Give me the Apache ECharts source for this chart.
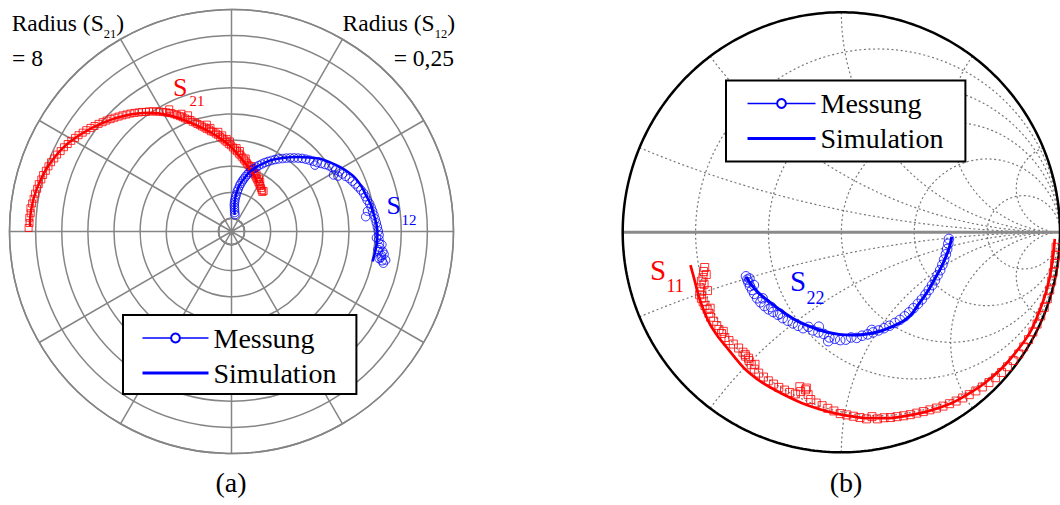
<!DOCTYPE html>
<html><head><meta charset="utf-8">
<script src="https://cdn.jsdelivr.net/npm/echarts@6/dist/echarts.min.js"></script>
<style>html,body{margin:0;padding:0;background:#fff}#c{width:1060px;height:505px}</style>
</head><body><div id="c"></div>
<script>
// ---------- data ----------
// polar (a): [radius, angle in degrees]; S21 radius axis max = 8, S12 radius axis max = 0.25
const s21RadiusMax = 8;
const s12RadiusMax = 0.25;
const s21Sim = [[7.22,178.6],[7.22,174],[7.14,168],[6.97,161],[6.70,153.5],[6.33,146.5],[5.93,139.5],[5.52,132.5],[5.05,125],[4.58,118.5],[4.02,111.5],[3.45,103],[3.10,97],[2.78,91],[2.45,85],[2.18,79],[1.95,72],[1.76,66],[1.60,62]];
const s21Meas = [[7.27,179.0],[7.24,177.6],[7.26,176.1],[7.22,174.8],[7.25,173.4],[7.21,172.0],[7.18,170.6],[7.16,169.1],[7.12,167.6],[7.10,166.2],[7.05,164.7],[7.03,163.3],[6.98,161.9],[6.94,160.4],[6.90,159.0],[6.84,157.6],[6.80,156.2],[6.73,154.8],[6.68,153.3],[6.61,151.9],[6.55,150.5],[6.48,149.1],[6.42,147.8],[6.34,146.4],[6.28,145.1],[6.20,143.7],[6.12,142.4],[6.05,141.0],[5.97,139.7],[5.90,138.4],[5.82,137.1],[5.75,135.8],[5.67,134.5],[5.60,133.2],[5.52,131.9],[5.45,130.6],[5.37,129.3],[5.28,127.9],[5.22,126.8],[5.13,125.6],[5.08,124.5],[5.00,123.2],[4.92,122.1],[4.86,121.0],[4.77,119.8],[4.70,118.7],[4.63,117.7],[4.58,116.9],[4.50,116.0],[4.42,115.1],[4.34,114.1],[4.26,113.2],[4.18,112.3],[4.10,111.4],[4.05,110.2],[3.96,109.5],[3.90,108.4],[3.82,107.6],[3.76,106.6],[3.68,105.7],[3.62,104.6],[3.55,103.7],[3.50,102.5],[3.42,101.6],[3.38,100.3],[3.30,99.1],[3.24,98.0],[3.15,96.8],[3.08,95.6],[3.00,94.3],[2.94,93.1],[2.86,91.8],[2.80,90.4],[2.72,89.0],[2.64,87.6],[2.58,86.1],[2.50,84.6],[2.44,83.2],[2.37,81.7],[2.30,80.2],[2.24,78.7],[2.18,77.1],[2.12,75.5],[2.06,73.9],[2.00,72.3],[1.94,70.6],[1.88,68.9],[1.83,67.1],[1.77,65.3],[1.72,63.5],[1.66,61.6],[1.61,59.7],[1.56,57.8],[1.51,55.8],[1.46,53.8],[1.42,52.0],[3.55,101.5],[3.20,95.5],[2.60,84.0],[2.05,71.0],[1.78,62.5],[1.48,51.5],[4.25,110.5],[4.75,117.0],[3.70,103.0],[3.35,97.5],[2.95,91.0],[2.70,86.5],[2.35,79.0],[2.12,73.0],[1.90,66.5],[1.70,60.0],[4.40,113.0],[3.05,93.0]];
const s12Sim = [[0.0047,79],[0.011,82.5],[0.0205,84],[0.031,82.5],[0.041,80],[0.050,76.5],[0.059,73],[0.067,69],[0.074,65.2],[0.082,61],[0.089,56.7],[0.097,52.2],[0.105,47.7],[0.113,43.5],[0.121,39.7],[0.128,35.3],[0.135,31],[0.141,27],[0.146,23.1],[0.149,19],[0.151,15.2],[0.154,11],[0.156,6.6],[0.158,3.3],[0.159,0],[0.159,356],[0.158,352],[0.157,348]];
const s12Meas = [[0.0048,78.5],[0.0075,80.5],[0.0105,82],[0.0135,83],[0.0165,84],[0.0195,84],[0.0225,83.8],[0.026,83.2],[0.029,82.5],[0.033,81.8],[0.036,81],[0.040,80],[0.043,79],[0.046,78],[0.049,76.8],[0.052,75.8],[0.055,74.6],[0.058,73.4],[0.061,72],[0.064,70.5],[0.067,69],[0.070,67.5],[0.073,65.8],[0.076,64.2],[0.079,62.4],[0.082,60.6],[0.085,58.8],[0.088,57],[0.091,55],[0.094,53.2],[0.097,51.4],[0.100,49.6],[0.103,47.8],[0.106,46],[0.1085,44.2],[0.111,42.4],[0.1135,40.6],[0.116,38.8],[0.119,37.2],[0.122,35.6],[0.125,34],[0.127,32.4],[0.129,30.6],[0.132,29],[0.134,27.4],[0.136,25.8],[0.139,24.2],[0.141,22.6],[0.143,21],[0.145,19.4],[0.147,17.8],[0.149,16.2],[0.150,14.6],[0.151,13],[0.153,11.4],[0.154,9.8],[0.155,8.2],[0.156,6.6],[0.157,5],[0.158,3.4],[0.159,1.8],[0.160,0.2],[0.161,358.6],[0.161,357],[0.162,355.4],[0.163,353.8],[0.162,352.2],[0.166,351],[0.164,349.6],[0.168,349],[0.170,348.2],[0.166,350.2],[0.172,349.5],[0.112,38.5],[0.124,29],[0.128,27.5],[0.146,6.3],[0.149,8.5],[0.165,355],[0.167,352.5],[0.161,353],[0.169,351.5],[0.158,357.5]];
// Smith chart (b): reflection coefficient [Re, Im]
const smithR = [0.2, 0.5, 1, 2, 5];
const smithX = [0.2, 0.5, 1, 2, 5];
const s11Sim = [[-0.690,-0.149],[-0.672,-0.215],[-0.656,-0.277],[-0.632,-0.348],[-0.603,-0.414],[-0.567,-0.470],[-0.527,-0.520],[-0.482,-0.575],[-0.436,-0.626],[-0.385,-0.667],[-0.330,-0.702],[-0.255,-0.742],[-0.179,-0.777],[-0.103,-0.803],[-0.027,-0.823],[0.050,-0.837],[0.124,-0.845],[0.200,-0.845],[0.275,-0.838],[0.390,-0.815],[0.503,-0.777],[0.580,-0.735],[0.655,-0.686],[0.735,-0.617],[0.806,-0.535],[0.861,-0.458],[0.897,-0.381],[0.927,-0.301],[0.950,-0.219],[0.965,-0.136],[0.973,-0.068],[0.976,-0.030]];
const s11Meas = [[-0.625,-0.160],[-0.630,-0.178],[-0.618,-0.192],[-0.633,-0.205],[-0.640,-0.222],[-0.628,-0.236],[-0.645,-0.252],[-0.638,-0.268],[-0.648,-0.284],[-0.640,-0.300],[-0.632,-0.316],[-0.624,-0.333],[-0.614,-0.350],[-0.606,-0.368],[-0.598,-0.386],[-0.584,-0.404],[-0.570,-0.424],[-0.560,-0.442],[-0.548,-0.460],[-0.533,-0.478],[-0.514,-0.492],[-0.494,-0.508],[-0.470,-0.526],[-0.450,-0.545],[-0.438,-0.563],[-0.422,-0.583],[-0.412,-0.602],[-0.398,-0.622],[-0.378,-0.640],[-0.356,-0.658],[-0.334,-0.675],[-0.310,-0.690],[-0.286,-0.705],[-0.260,-0.717],[-0.236,-0.728],[-0.210,-0.735],[-0.186,-0.724],[-0.164,-0.716],[-0.152,-0.738],[-0.140,-0.760],[-0.115,-0.776],[-0.088,-0.788],[-0.062,-0.800],[-0.034,-0.812],[-0.005,-0.824],[0.025,-0.830],[0.055,-0.836],[0.085,-0.842],[0.115,-0.848],[0.140,-0.838],[0.165,-0.848],[0.195,-0.843],[0.225,-0.842],[0.255,-0.838],[0.285,-0.834],[0.315,-0.829],[0.345,-0.822],[0.375,-0.815],[0.405,-0.807],[0.435,-0.799],[0.465,-0.790],[0.495,-0.779],[0.525,-0.767],[0.555,-0.753],[0.585,-0.738],[0.615,-0.721],[0.645,-0.703],[0.675,-0.683],[0.705,-0.661],[0.733,-0.637],[0.760,-0.611],[0.786,-0.583],[0.811,-0.553],[0.834,-0.521],[0.856,-0.488],[0.876,-0.453],[0.895,-0.417],[0.912,-0.380],[0.928,-0.341],[0.942,-0.302],[0.953,-0.262],[0.962,-0.222],[0.969,-0.182],[0.975,-0.142],[0.979,-0.104],[0.982,-0.068],[-0.440,-0.555],[-0.425,-0.572],[-0.190,-0.702],[-0.160,-0.708],[-0.612,-0.265],[-0.600,-0.345],[-0.540,-0.450],[-0.395,-0.600]];
const s22Sim = [[-0.436,-0.202],[-0.412,-0.238],[-0.380,-0.274],[-0.330,-0.315],[-0.270,-0.360],[-0.209,-0.399],[-0.140,-0.430],[-0.073,-0.452],[-0.010,-0.464],[0.048,-0.467],[0.110,-0.463],[0.170,-0.452],[0.235,-0.428],[0.291,-0.399],[0.325,-0.368],[0.351,-0.330],[0.380,-0.290],[0.405,-0.252],[0.427,-0.212],[0.455,-0.162],[0.478,-0.111],[0.495,-0.065],[0.505,-0.020]];
const s22Meas = [[-0.436,-0.200],[-0.430,-0.215],[-0.425,-0.228],[-0.418,-0.245],[-0.408,-0.262],[-0.398,-0.280],[-0.385,-0.300],[-0.370,-0.318],[-0.352,-0.335],[-0.333,-0.350],[-0.312,-0.362],[-0.290,-0.375],[-0.268,-0.390],[-0.245,-0.402],[-0.222,-0.414],[-0.198,-0.425],[-0.175,-0.436],[-0.150,-0.430],[-0.130,-0.446],[-0.105,-0.455],[-0.080,-0.462],[-0.055,-0.478],[-0.030,-0.484],[-0.005,-0.490],[0.020,-0.488],[0.045,-0.478],[0.070,-0.480],[0.095,-0.470],[0.120,-0.464],[0.145,-0.455],[0.170,-0.446],[0.195,-0.436],[0.220,-0.425],[0.245,-0.412],[0.268,-0.398],[0.290,-0.382],[0.310,-0.364],[0.330,-0.345],[0.350,-0.325],[0.368,-0.305],[0.385,-0.283],[0.400,-0.262],[0.415,-0.240],[0.428,-0.218],[0.440,-0.195],[0.452,-0.172],[0.462,-0.148],[0.470,-0.124],[0.478,-0.100],[0.484,-0.076],[0.489,-0.052],[0.492,-0.030],[-0.103,-0.429],[0.139,-0.444],[-0.060,-0.495],[-0.420,-0.210],[-0.400,-0.240],[-0.360,-0.300],[-0.320,-0.340],[-0.280,-0.370]];

// ---------- helpers (chart furniture geometry) ----------
const FONT = "'Liberation Serif','Times New Roman',serif";
const TAU = Math.PI * 2;
function arcPts(cx, cy, rad, a0, a1, n) {
  const p = [];
  for (let i = 0; i <= n; i++) { const t = a0 + (a1 - a0) * i / n; p.push([cx + rad * Math.cos(t), cy + rad * Math.sin(t)]); }
  return p;
}
const gridStyle = {color: '#777', width: 1.2, type: [2, 2.6]};
function furniture(data, lineStyle, z) {
  return {type: 'line', xAxisIndex: 0, yAxisIndex: 0, data: data, showSymbol: false, symbol: 'none', silent: true, clip: false, lineStyle: lineStyle, z: z, animation: false};
}
const smithSeries = [];
smithR.forEach(r => smithSeries.push(furniture(arcPts(r / (1 + r), 0, 1 / (1 + r), 0, TAU, 240), gridStyle, 1)));
smithX.forEach(x => {
  const px = (x * x - 1) / (x * x + 1), py = 2 * x / (x * x + 1);
  let a0 = Math.atan2(py - 1 / x, px - 1);
  if (a0 > -Math.PI / 2) a0 -= TAU;
  const up = arcPts(1, 1 / x, 1 / x, a0, -Math.PI / 2, 200);
  smithSeries.push(furniture(up, gridStyle, 1));
  smithSeries.push(furniture(up.map(p => [p[0], -p[1]]), gridStyle, 1));
});
smithSeries.push(furniture([[-1, 0], [1, 0]], {color: '#8a8a8a', width: 3, type: 'solid'}, 2));
smithSeries.push(furniture(arcPts(0, 0, 1, 0, TAU, 360), {color: '#000', width: 2.5, type: 'solid'}, 3));

const mctx = document.createElement('canvas').getContext('2d');
function tw(text, size) { mctx.font = size + 'px ' + FONT; return mctx.measureText(text).width; }
function txt(x, y, text, size, color, align) {
  return {type: 'text', x: x, y: y, z: 100, silent: true,
    style: {text: text, font: size + 'px ' + FONT, fill: color, textAlign: align || 'left', align: align || 'left', textVerticalAlign: 'middle', verticalAlign: 'middle'}};
}
function by(base, size) { return base - 0.305 * size; }

// "Radius (S_xx)" labels laid out from measured text widths
const RF = 23.5, SF = 12.5;
const leftX0 = 11.7;
const leftSubX = leftX0 + tw('Radius (S', RF);
const leftCloseX = leftSubX + tw('21', SF);
const rightEnd = 455;
const rightSubEnd = rightEnd - tw(')', RF);
const rightMainEnd = rightSubEnd - tw('12', SF);

const axisGray = '#858585';
const polarAngle = (idx, show) => ({polarIndex: idx, type: 'value', min: 0, max: 360, interval: 30, startAngle: 0, clockwise: false,
  axisLine: {show: show, lineStyle: {color: axisGray, width: 1.5}}, axisTick: {show: false}, axisLabel: {show: false},
  splitLine: {show: show, lineStyle: {color: axisGray, width: 1.5}}});

const legendCommon = {orient: 'vertical', itemHeight: 11, itemGap: 3, backgroundColor: '#fff', borderColor: '#000', borderWidth: 2,
  borderRadius: 0, selectedMode: false, z: 20,
  textStyle: {fontFamily: FONT, fontSize: 28, color: '#000', lineHeight: 32},
  data: [{name: 'Messung', lineStyle: {width: 1.5}}, {name: 'Simulation', lineStyle: {width: 3}, itemStyle: {opacity: 0}}]};

const option = {
  animation: false,
  backgroundColor: '#fff',
  polar: [
    {center: [231.5, 231.5], radius: [13, 222]},
    {center: [231.5, 231.5], radius: [13, 222]},
    {center: [231.5, 231.5], radius: [0, 13]}
  ],
  angleAxis: [polarAngle(0, true), polarAngle(1, false), polarAngle(2, true)],
  radiusAxis: [
    {polarIndex: 0, type: 'value', min: 0, max: s21RadiusMax, interval: 1, axisLine: {show: false}, axisTick: {show: false}, axisLabel: {show: false}, splitLine: {show: true, lineStyle: {color: axisGray, width: 1.5}}},
    {polarIndex: 1, type: 'value', min: 0, max: s12RadiusMax, show: false, splitLine: {show: false}},
    {polarIndex: 2, type: 'value', min: 0, max: 1, show: false, splitLine: {show: false}}
  ],
  grid: {left: 622.7, top: 12.3, width: 440, height: 440, show: false},
  xAxis: {type: 'value', min: -1, max: 1, show: false},
  yAxis: {type: 'value', min: -1, max: 1, show: false},
  legend: [
    Object.assign({}, legendCommon, {left: 123, top: 315, itemWidth: 66, padding: [7, 20, 5, 18]}),
    Object.assign({}, legendCommon, {left: 726, top: 80.5, itemWidth: 68, padding: [7, 22, 7, 20]})
  ],
  series: smithSeries.concat([
    {name: 'Messung', type: 'line', xAxisIndex: 0, yAxisIndex: 0, data: [], symbol: 'emptyCircle', lineStyle: {color: '#0000ff', width: 1.5}, itemStyle: {color: '#0000ff'}},
    {name: 'Simulation', type: 'line', xAxisIndex: 0, yAxisIndex: 0, data: [], symbol: 'none', lineStyle: {color: '#0000ff', width: 3}, itemStyle: {color: '#0000ff'}},
    // polar (a)
    {name: 'S21 Messung', type: 'scatter', coordinateSystem: 'polar', polarIndex: 0, data: s21Meas, symbol: 'rect', symbolSize: 7, itemStyle: {color: 'rgba(0,0,0,0)', borderColor: '#ff0000', borderWidth: 1}, z: 4},
    {name: 'S21 Simulation', type: 'line', coordinateSystem: 'polar', polarIndex: 0, data: s21Sim, symbol: 'none', smooth: 0.3, lineStyle: {color: '#ff0000', width: 2.5}, z: 5},
    {name: 'S12 Messung', type: 'scatter', coordinateSystem: 'polar', polarIndex: 1, data: s12Meas, symbol: 'circle', symbolSize: 8.5, itemStyle: {color: 'rgba(0,0,0,0)', borderColor: '#0000ff', borderWidth: 1}, z: 4},
    {name: 'S12 Simulation', type: 'line', coordinateSystem: 'polar', polarIndex: 1, data: s12Sim, symbol: 'none', smooth: 0.3, lineStyle: {color: '#0000ff', width: 2.5}, z: 5},
    // Smith (b)
    {name: 'S11 Messung', type: 'scatter', xAxisIndex: 0, yAxisIndex: 0, data: s11Meas, symbol: 'rect', symbolSize: 8, clip: false, itemStyle: {color: 'rgba(0,0,0,0)', borderColor: '#ff0000', borderWidth: 1}, z: 4},
    {name: 'S11 Simulation', type: 'line', xAxisIndex: 0, yAxisIndex: 0, data: s11Sim, symbol: 'none', smooth: 0.3, clip: false, lineStyle: {color: '#ff0000', width: 2.7}, z: 5},
    {name: 'S22 Messung', type: 'scatter', xAxisIndex: 0, yAxisIndex: 0, data: s22Meas, symbol: 'circle', symbolSize: 9.5, clip: false, itemStyle: {color: 'rgba(0,0,0,0)', borderColor: '#0000ff', borderWidth: 1}, z: 4},
    {name: 'S22 Simulation', type: 'line', xAxisIndex: 0, yAxisIndex: 0, data: s22Sim, symbol: 'none', smooth: 0.3, clip: false, lineStyle: {color: '#0000ff', width: 3}, z: 5}
  ]),
  graphic: {elements: [
    txt(leftX0, by(30, RF), 'Radius (S', RF, '#000'),
    txt(leftSubX, by(37.5, SF), '21', SF, '#000'),
    txt(leftCloseX, by(30, RF), ')', RF, '#000'),
    txt(12, by(65.5, RF), '= 8', RF, '#000'),
    txt(rightMainEnd, by(30, RF), 'Radius (S', RF, '#000', 'right'),
    txt(rightMainEnd, by(37.5, SF), '12', SF, '#000'),
    txt(rightSubEnd, by(30, RF), ')', RF, '#000'),
    txt(454, by(65.5, RF), '= 0,25', RF, '#000', 'right'),
    txt(173, by(95, 26), 'S', 26, '#ff0000'),
    txt(189.5, by(106, 15), '21', 15, '#ff0000'),
    txt(386.5, by(213, 26), 'S', 26, '#0000ff'),
    txt(401.5, by(225, 15), '12', 15, '#0000ff'),
    txt(231, by(491, 28), '(a)', 28, '#000', 'center'),
    txt(650, by(278.5, 29), 'S', 29, '#ff0000'),
    txt(666.5, by(291.7, 18), '11', 18, '#ff0000'),
    txt(790, by(290, 29), 'S', 29, '#0000ff'),
    txt(806.5, by(303.3, 18), '22', 18, '#0000ff'),
    txt(846, by(491, 28), '(b)', 28, '#000', 'center')
  ]}
};
const chart = echarts.init(document.getElementById('c'), null, {renderer: 'svg'});
chart.setOption(option);
</script></body></html>
